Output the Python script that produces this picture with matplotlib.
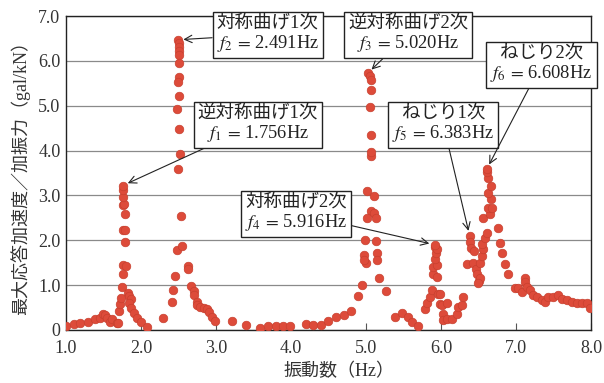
import matplotlib
matplotlib.use('Agg')
import matplotlib.pyplot as plt

plt.rcParams['font.family'] = ['Liberation Serif', 'Noto Sans CJK JP']
plt.rcParams['mathtext.fontset'] = 'stix'

# measured points: excitation frequency (Hz) / peak response per unit force (gal/kN)
# first antisymmetric bending peak
f_a = [1.00, 1.10, 1.19, 1.29, 1.39, 1.45, 1.49, 1.52, 1.55, 1.59, 1.61, 1.68, 1.69,
       1.71, 1.72, 1.73, 1.75, 1.76, 1.76, 1.80, 1.79, 1.76, 1.79, 1.78, 1.76, 1.77,
       1.76, 1.76, 1.756, 1.82, 1.84, 1.86, 1.84, 1.87, 1.91, 1.95, 2.00, 2.08]
r_a = [0.09, 0.13, 0.16, 0.18, 0.25, 0.27, 0.36, 0.33, 0.27, 0.18, 0.25, 0.16, 0.16,
       0.43, 0.58, 0.72, 0.95, 1.25, 1.46, 1.43, 1.97, 2.22, 2.22, 2.58, 2.78, 2.82,
       2.96, 3.12, 3.22, 0.83, 0.76, 0.70, 0.60, 0.50, 0.38, 0.27, 0.18, 0.07]
# first symmetric bending peak
f_b = [2.29, 2.41, 2.43, 2.45, 2.48, 2.54, 2.53,
       2.491, 2.50, 2.50, 2.51, 2.51, 2.51, 2.51, 2.49, 2.51, 2.48, 2.51, 2.52, 2.49,
       2.62, 2.63, 2.67, 2.70, 2.71, 2.74, 2.75, 2.79, 2.84, 2.88, 2.91, 2.94, 2.98]
r_b = [0.27, 0.62, 0.90, 1.20, 1.78, 1.88, 2.54,
       6.47, 6.40, 6.32, 6.22, 6.12, 5.96, 5.63, 5.52, 5.21, 4.92, 4.47, 3.92, 3.60,
       1.43, 1.36, 0.99, 0.88, 0.77, 0.63, 0.56, 0.52, 0.50, 0.46, 0.41, 0.30, 0.21]
# low response between the peaks
f_c = [3.21, 3.40, 3.59, 3.69, 3.80, 3.89, 3.99, 4.20, 4.29, 4.40, 4.49, 4.60, 4.71,
       4.80, 4.89, 4.95]
r_c = [0.19, 0.12, 0.05, 0.10, 0.10, 0.08, 0.08, 0.13, 0.11, 0.11, 0.20, 0.28, 0.33,
       0.42, 0.76, 1.01]
# second antisymmetric bending peak
f_d = [5.00, 5.02, 5.05, 5.06, 5.06, 5.05, 5.06, 5.06, 5.07,
       5.01, 5.10, 5.06, 5.10, 5.01, 5.13, 4.99, 5.13, 4.97, 4.97, 5.14, 5.15, 5.17, 5.27]
r_d = [1.49, 5.72, 5.67, 5.58, 5.34, 4.98, 4.34, 3.89, 3.96,
       3.09, 2.98, 2.65, 2.61, 2.49, 2.49, 2.01, 1.98, 1.67, 1.56, 1.72, 1.56, 1.16, 0.87]
# second symmetric bending peak
f_e = [5.39, 5.48, 5.56, 5.61, 5.69,
       5.79, 5.81, 5.85, 5.88, 5.96, 5.89, 5.94, 5.89, 5.94, 5.92, 5.93, 5.92, 5.95, 5.916,
       5.99, 6.01, 6.08, 6.03, 6.03, 6.08, 6.15, 6.21, 6.23, 6.28, 6.29, 5.99]
r_e = [0.29, 0.38, 0.29, 0.18, 0.09,
       0.47, 0.60, 0.74, 0.89, 0.80, 1.25, 1.18, 1.40, 1.45, 1.58, 1.71, 1.85, 1.80, 1.90,
       0.58, 0.56, 0.60, 0.36, 0.23, 0.25, 0.25, 0.36, 0.51, 0.56, 0.74, 0.80]
# first and second torsion peaks
f_f = [6.383, 6.38, 6.40, 6.44, 6.34, 6.42, 6.47, 6.48, 6.50, 6.52, 6.49, 6.52, 6.55,
       6.56, 6.55, 6.59, 6.61, 6.56, 6.65, 6.62, 6.68, 6.66, 6.63, 6.66, 6.63, 6.61,
       6.608, 6.76, 6.79, 6.81, 6.85, 6.89, 6.99]
r_f = [2.09, 1.96, 1.82, 1.76, 1.47, 1.49, 1.36, 1.25, 1.09, 1.16, 1.05, 1.49, 1.65,
       1.80, 1.91, 2.05, 2.16, 2.49, 2.58, 2.71, 2.71, 2.91, 3.05, 3.20, 3.38, 3.53,
       3.58, 2.27, 1.93, 1.71, 1.47, 1.25, 0.93]
# tail above 7 Hz
f_g = [7.03, 7.08, 7.12, 7.12, 7.15, 7.19, 7.23, 7.28, 7.35, 7.39, 7.43, 7.49, 7.56,
       7.61, 7.68, 7.75, 7.81, 7.88, 7.95, 7.99]
r_g = [0.93, 0.84, 1.15, 1.06, 0.95, 0.89, 0.78, 0.73, 0.67, 0.62, 0.73, 0.73, 0.78,
       0.69, 0.67, 0.62, 0.60, 0.60, 0.60, 0.49]

freq = f_a + f_b + f_c + f_d + f_e + f_f + f_g
resp = r_a + r_b + r_c + r_d + r_e + r_f + r_g

# mode labels: name, frequency, peak response, label-box centre
modes = ['逆対称曲げ1次', '対称曲げ1次', '逆対称曲げ2次', '対称曲げ2次', 'ねじり1次', 'ねじり2次']
mode_f = [1.756, 2.491, 5.020, 5.916, 6.383, 6.608]
mode_r = [3.22, 6.47, 5.72, 1.90, 2.09, 3.58]
box_x = [3.56, 3.69, 5.56, 4.07, 6.03, 7.34]
box_y = [4.60, 6.59, 6.59, 2.61, 4.59, 5.93]

fig = plt.figure(figsize=(6.04, 3.83), dpi=100)
ax = fig.add_axes([0.1093, 0.1384, 0.8692, 0.8198])

ax.scatter(freq, resp, s=38, c='#dd4b3a', edgecolors='#c8402f', linewidths=0.5, zorder=3)

ax.set_xlim(1.0, 8.0)
ax.set_ylim(0, 7.0)
ax.set_xticks([1, 2, 3, 4, 5, 6, 7, 8])
ax.set_xticklabels(['1.0', '2.0', '3.0', '4.0', '5.0', '6.0', '7.0', '8.0'])
ax.set_yticks([0, 1, 2, 3, 4, 5, 6, 7])
ax.set_yticklabels(['0', '1.0', '2.0', '3.0', '4.0', '5.0', '6.0', '7.0'])
ax.tick_params(axis='x', direction='in', length=5, width=0.8, pad=7, labelsize=13,
               color='#555555', labelcolor='#333333')
ax.tick_params(axis='y', length=0, pad=4, labelsize=13, labelcolor='#333333')
ax.grid(axis='y', color='#8a8a8a', linewidth=0.9)
ax.set_axisbelow(True)
for sp in ax.spines.values():
    sp.set_linewidth(1.0)
    sp.set_color('#222222')

ax.set_xlabel('振動数（Hz）', fontsize=13, color='#333333')
ax.xaxis.set_label_coords(0.52, -0.105)
ax.set_ylabel('最大応答加速度／加振力（gal/kN）', fontsize=13, labelpad=6, color='#333333')

for i in range(len(modes)):
    # mathtext cannot fall back to the CJK font, so the equals sign stays ASCII
    label = modes[i] + '\n' + r'$f_{%d}\,=\,$%.3fHz' % (i + 1, mode_f[i])
    ax.annotate(label, xy=(mode_f[i], mode_r[i]), xytext=(box_x[i], box_y[i]),
                textcoords='data', ha='center', va='center', fontsize=13.3,
                multialignment='center', linespacing=1.1, annotation_clip=False,
                color='#222222',
                bbox=dict(boxstyle='square,pad=0.22', fc='white', ec='#222222', lw=1.0),
                arrowprops=dict(arrowstyle='->', color='#222222', lw=0.8,
                                shrinkA=0, shrinkB=4),
                zorder=4)

plt.savefig('out.png', dpi=100)
